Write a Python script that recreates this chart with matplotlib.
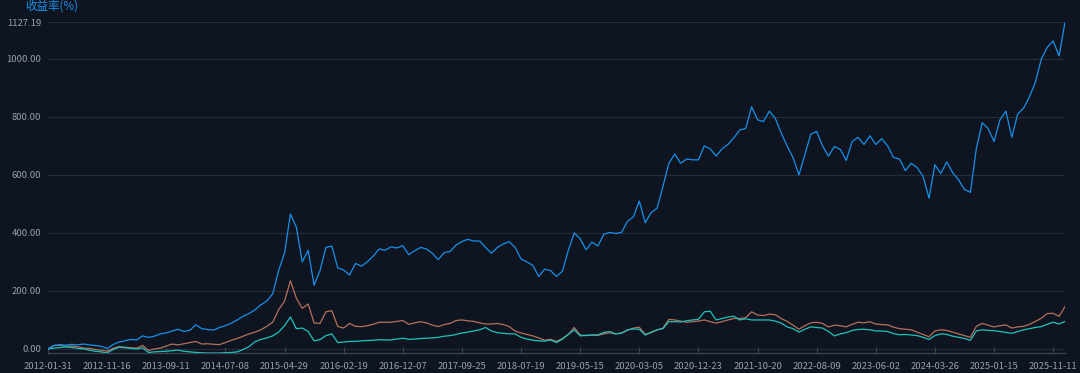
import matplotlib
matplotlib.use("Agg")
import matplotlib.pyplot as plt

# tick labels on the category axis (every 10th sample)
date_labels = ["2012-01-31", "2012-11-16", "2013-09-11", "2014-07-08", "2015-04-29", "2016-02-19",
               "2016-12-07", "2017-09-25", "2018-07-19", "2019-05-15", "2020-03-05", "2020-12-23",
               "2021-10-20", "2022-08-09", "2023-06-02", "2024-03-26", "2025-01-15", "2025-11-11"]

# cumulative return (%)
blue_vals = [0, 12, 15, 13, 16, 14, 17, 14, 12, 9,
             2, 15, 24, 28, 33, 31, 45, 40, 44, 52,
             55, 62, 68, 60, 65, 83, 70, 67, 65, 74,
             80, 89, 100, 113, 122, 135, 152, 165, 190, 270,
             330, 465, 420, 300, 340, 220, 270, 350, 355, 280,
             272, 255, 295, 285, 300, 320, 345, 340, 352, 348,
             356, 325, 338, 350, 345, 330, 308, 332, 336, 358,
             370, 378, 372, 372, 350, 330, 350, 362, 370, 350,
             310, 300, 288, 250, 275, 270, 250, 268, 340, 400,
             380, 342, 368, 355, 395, 402, 398, 402, 440, 455,
             510, 435, 470, 485, 560, 640, 672, 640, 655, 652,
             652, 700, 690, 665, 690, 705, 728, 755, 760, 835,
             790, 784, 820, 795, 745, 700, 660, 600, 670, 740,
             750, 700, 665, 698, 688, 650, 715, 730, 705, 735,
             705, 725, 700, 660, 655, 615, 640, 625, 595, 520,
             635, 605, 645, 608, 583, 550, 540, 690, 780, 760,
             715, 790, 820, 730, 810, 830, 870, 920, 1000, 1040,
             1062, 1010, 1127.19]

brown_vals = [0, 12, 13, 10, 10, 8, 3, 2, -2, -4,
              -8, 2, 8, 6, 4, 3, 12, -5, 0, 3,
              10, 17, 14, 18, 22, 26, 17, 18, 16, 15,
              22, 30, 36, 44, 52, 58, 66, 78, 92, 135,
              165, 235, 175, 140, 155, 90, 88, 128, 132, 78,
              72, 88, 78, 77, 80, 85, 92, 92, 92, 95,
              98, 85, 90, 94, 90, 82, 77, 84, 88, 98,
              100, 97, 95, 90, 86, 86, 88, 84, 77, 62,
              55, 50, 45, 38, 30, 33, 26, 36, 50, 74,
              48, 46, 48, 47, 52, 56, 52, 55, 64, 72,
              75, 50, 56, 65, 72, 102, 100, 96, 92, 94,
              96, 100, 94, 89, 94, 100, 105, 105, 108, 128,
              117, 115, 120, 118, 105, 95, 82, 68, 80, 90,
              92, 88, 76, 82, 80, 76, 85, 92, 90, 94,
              86, 84, 83, 75, 70, 68, 66, 58, 50, 42,
              62, 66, 64, 58, 52, 46, 40, 78, 88, 82,
              76, 80, 83, 72, 76, 78, 85, 95, 106, 122,
              123, 112, 146]

teal_vals = [0, 3, 5, 7, 5, 2, 0, -4, -8, -10,
             -14, -2, 6, 4, 2, 0, 4, -12, -10, -9,
             -8, -6, -4, -8, -10, -12, -13, -14, -14, -14,
             -13, -12, -10, -2, 8, 25, 33, 38, 45, 58,
             80, 110, 70, 72, 60, 28, 32, 46, 52, 22,
             24, 26, 26, 28, 29, 30, 32, 31, 31, 34,
             37, 33, 34, 36, 37, 38, 40, 44, 46, 50,
             55, 58, 62, 66, 74, 62, 56, 54, 52, 52,
             40, 34, 30, 28, 27, 31, 22, 34, 50, 66,
             45, 47, 48, 48, 57, 60, 52, 54, 66, 69,
             68, 48, 58, 66, 70, 94, 94, 93, 97, 100,
             102, 128, 130, 100, 105, 110, 113, 100, 104, 100,
             100, 100, 100, 96, 89, 76, 70, 58, 68, 76,
             74, 72, 60, 45, 52, 56, 64, 67, 68, 66,
             62, 62, 60, 53, 49, 50, 48, 46, 40, 33,
             46, 52, 50, 44, 40, 36, 30, 62, 66, 64,
             63, 60, 57, 54, 60, 66, 70, 74, 77, 85,
             92, 86, 95]

bg = "#0f1520"
grid_c = "#262c36"
text_c = "#9aa0a8"

fig = plt.figure(figsize=(10.8, 3.73), dpi=100, facecolor=bg)
ax = fig.add_axes([48 / 1080, 1 - 353.3 / 373, (1065 - 48) / 1080, (353.3 - 22) / 373])
ax.set_facecolor(bg)

x = list(range(len(blue_vals)))
ax.plot(x, brown_vals, color="#b5705c", lw=0.9, zorder=3)
ax.plot(x, teal_vals, color="#1ec3bd", lw=0.9, zorder=4)
ax.plot(x, blue_vals, color="#1590ea", lw=0.9, zorder=5)

ymax = max(blue_vals)
ax.set_xlim(0, len(blue_vals) - 1)
ax.set_ylim(-15, ymax)

yticks = [0, 200, 400, 600, 800, 1000, ymax]
ax.set_yticks(yticks)
ax.set_yticklabels(["{:.2f}".format(v) for v in yticks])
for v in yticks:
    ax.axhline(v, color=grid_c, lw=0.9, zorder=1)

xt = list(range(0, len(blue_vals), 10))
ax.set_xticks(xt)
ax.set_xticklabels(date_labels)

font = ["Noto Sans CJK SC", "DejaVu Sans"]
ax.tick_params(axis="y", length=0, pad=5, colors=text_c, labelsize=6.8)
ax.tick_params(axis="x", direction="in", length=4, width=0.8, color="#3a414c",
               pad=6, colors=text_c, labelsize=6.8)
for lab in ax.get_xticklabels() + ax.get_yticklabels():
    lab.set_family(font)
    lab.set_color(text_c)

for s in ["top", "right", "left"]:
    ax.spines[s].set_visible(False)
ax.spines["bottom"].set_color("#3a414c")
ax.spines["bottom"].set_linewidth(1.0)

fig.text(25 / 1080, 1 - 6 / 373, "收益率(%)", color="#1590ea", fontsize=8.3, family=font,
         va="center", ha="left")

fig.savefig("out.png", dpi=100, facecolor=bg)
